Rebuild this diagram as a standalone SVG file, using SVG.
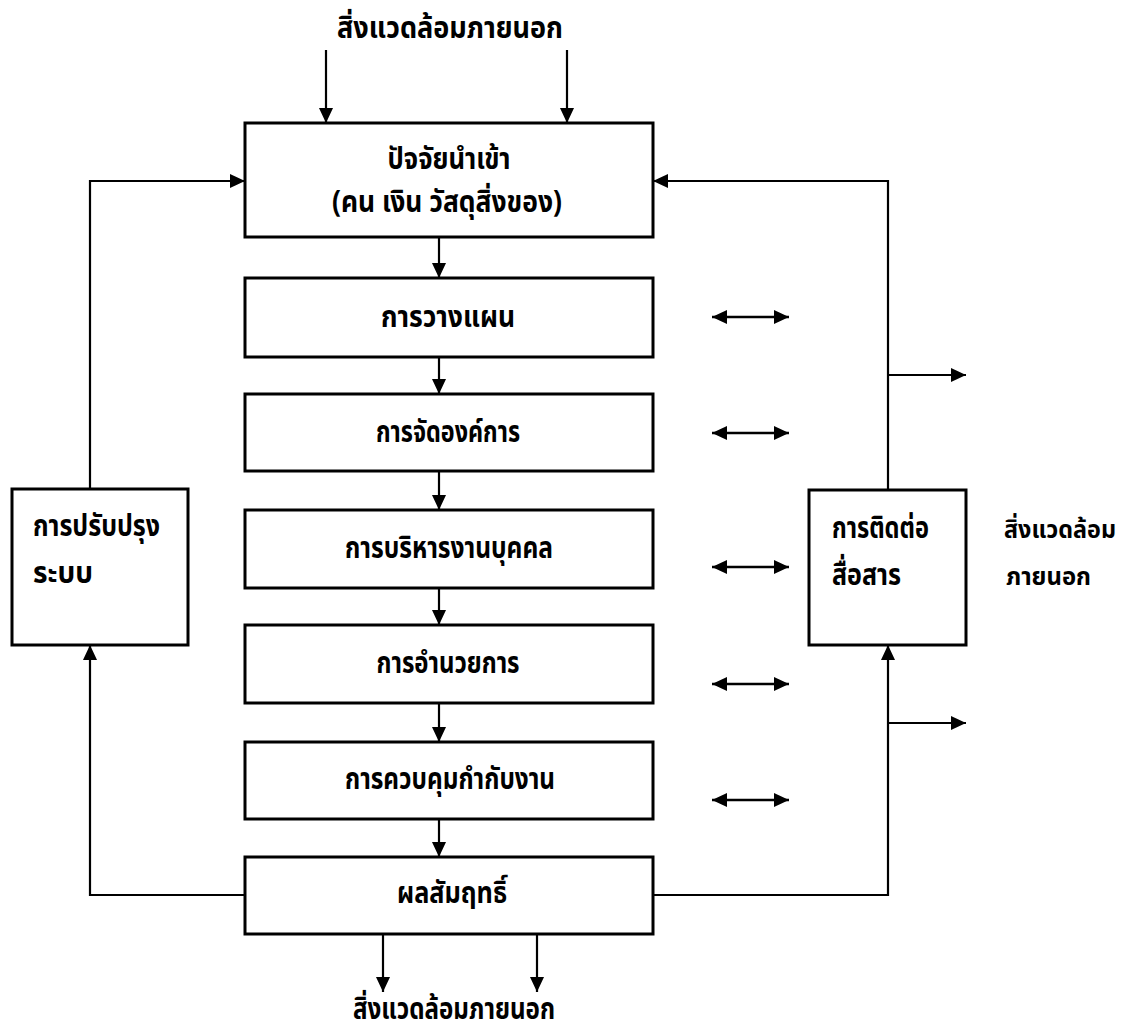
<svg xmlns="http://www.w3.org/2000/svg" width="1132" height="1031" viewBox="0 0 1132 1031">
<style>
  .box { fill: #ffffff; stroke: #000000; stroke-width: 3; }
  .arr { fill: none; stroke: #000000; stroke-width: 2.2; marker-end: url(#ah); }
  .dbl { fill: none; stroke: #000000; stroke-width: 2.4; marker-start: url(#ah); marker-end: url(#ah); }
  text { font-family: "Noto Sans Thai", "Noto Sans Thai UI", "Noto Sans", "DejaVu Sans", sans-serif; font-size: 30px; font-weight: bold; fill: #000000; }
  .c { text-anchor: middle; }
  .sm { font-size: 25px; }
</style>
<defs>
  <marker id="ah" markerUnits="userSpaceOnUse" markerWidth="16" markerHeight="14" refX="15" refY="7" orient="auto-start-reverse">
    <path d="M0,0 L15,7 L0,14 z" fill="#000000"/>
  </marker>
</defs>
<rect width="1132" height="1031" fill="#ffffff"/>

<g id="connectors">
  <line class="arr" x1="326" y1="50" x2="326" y2="123"/>
  <line class="arr" x1="567" y1="50" x2="567" y2="123"/>
  <line class="arr" x1="439" y1="237" x2="439" y2="278"/>
  <line class="arr" x1="439" y1="357" x2="439" y2="394"/>
  <line class="arr" x1="439" y1="471" x2="439" y2="510"/>
  <line class="arr" x1="439" y1="588" x2="439" y2="625"/>
  <line class="arr" x1="439" y1="703" x2="439" y2="742"/>
  <line class="arr" x1="439" y1="819" x2="439" y2="857"/>
  <line class="arr" x1="383" y1="934" x2="383" y2="992"/>
  <line class="arr" x1="537" y1="934" x2="537" y2="992"/>
  <polyline class="arr" points="90,489 90,181 245,181"/>
  <polyline class="arr" points="245,895 90,895 90,645"/>
  <polyline class="arr" points="888,490 888,181 653,181"/>
  <polyline class="arr" points="653,895 888,895 888,645"/>
  <line class="arr" x1="888" y1="375" x2="966" y2="375"/>
  <line class="arr" x1="888" y1="723" x2="966" y2="723"/>
  <line class="dbl" x1="712" y1="317" x2="789" y2="317"/>
  <line class="dbl" x1="712" y1="433" x2="789" y2="433"/>
  <line class="dbl" x1="712" y1="567" x2="789" y2="567"/>
  <line class="dbl" x1="712" y1="684" x2="789" y2="684"/>
  <line class="dbl" x1="712" y1="800" x2="789" y2="800"/>
</g>

<g id="env-top">
  <text class="c" x="450" y="38" textLength="226" lengthAdjust="spacingAndGlyphs">สิ่งแวดล้อมภายนอก</text>
</g>

<g id="inputs">
  <rect class="box" x="245" y="123" width="408" height="114"/>
  <text class="c" x="449" y="169" textLength="123" lengthAdjust="spacingAndGlyphs">ปัจจัยนำเข้า</text>
  <text class="c" x="447" y="212" textLength="230" lengthAdjust="spacingAndGlyphs">(คน เงิน วัสดุสิ่งของ)</text>
</g>

<g id="planning">
  <rect class="box" x="245" y="278" width="408" height="79"/>
  <text class="c" x="448" y="327" textLength="134" lengthAdjust="spacingAndGlyphs">การวางแผน</text>
</g>

<g id="organizing">
  <rect class="box" x="245" y="394" width="408" height="77"/>
  <text class="c" x="448" y="442" textLength="144" lengthAdjust="spacingAndGlyphs">การจัดองค์การ</text>
</g>

<g id="staffing">
  <rect class="box" x="245" y="510" width="408" height="78"/>
  <text class="c" x="449" y="558" textLength="208" lengthAdjust="spacingAndGlyphs">การบริหารงานบุคคล</text>
</g>

<g id="directing">
  <rect class="box" x="245" y="625" width="408" height="78"/>
  <text class="c" x="448" y="673" textLength="143" lengthAdjust="spacingAndGlyphs">การอำนวยการ</text>
</g>

<g id="controlling">
  <rect class="box" x="245" y="742" width="408" height="77"/>
  <text class="c" x="450" y="789" textLength="210" lengthAdjust="spacingAndGlyphs">การควบคุมกำกับงาน</text>
</g>

<g id="results">
  <rect class="box" x="245" y="857" width="408" height="77"/>
  <text class="c" x="452" y="903" textLength="110" lengthAdjust="spacingAndGlyphs">ผลสัมฤทธิ์</text>
</g>

<g id="env-bottom">
  <text class="c" x="454" y="1019" textLength="202" lengthAdjust="spacingAndGlyphs">สิ่งแวดล้อมภายนอก</text>
</g>

<g id="improvement">
  <rect class="box" x="12" y="489" width="176" height="156"/>
  <text x="33" y="536" textLength="127" lengthAdjust="spacingAndGlyphs">การปรับปรุง</text>
  <text x="33" y="583" textLength="60" lengthAdjust="spacingAndGlyphs">ระบบ</text>
</g>

<g id="communication">
  <rect class="box" x="809" y="490" width="157" height="155"/>
  <text x="832" y="538" textLength="97" lengthAdjust="spacingAndGlyphs">การติดต่อ</text>
  <text x="832" y="585" textLength="69" lengthAdjust="spacingAndGlyphs">สื่อสาร</text>
</g>

<g id="env-right">
  <text class="sm" x="1004" y="538" textLength="112" lengthAdjust="spacingAndGlyphs">สิ่งแวดล้อม</text>
  <text class="sm" x="1006" y="585" textLength="85" lengthAdjust="spacingAndGlyphs">ภายนอก</text>
</g>
</svg>
